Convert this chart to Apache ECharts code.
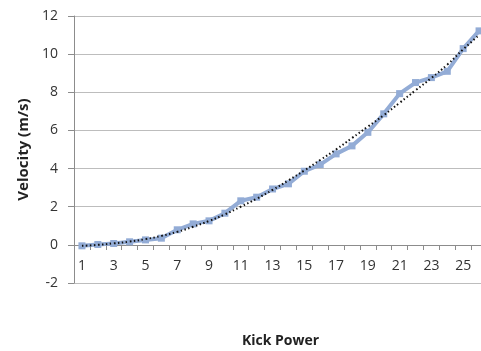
<!DOCTYPE html>
<html>
<head>
<meta charset="utf-8">
<script src="https://cdn.jsdelivr.net/npm/echarts@6/dist/echarts.min.js"></script>
<style>html,body{margin:0;padding:0;background:#fff;}#c{width:481px;height:351px;}</style>
</head>
<body>
<div id="c"></div>
<script>
var categories = ['1','2','3','4','5','6','7','8','9','10','11','12','13','14','15','16','17','18','19','20','21','22','23','24','25','26'];
var velocity = [-0.05,0.02,0.07,0.16,0.26,0.35,0.79,1.10,1.26,1.66,2.31,2.50,2.93,3.20,3.86,4.21,4.77,5.19,5.90,6.87,7.93,8.51,8.77,9.10,10.29,11.22];
var trend = [-0.05,0.0,0.08,0.17,0.30,0.47,0.68,0.95,1.25,1.60,2.00,2.42,2.88,3.38,3.90,4.45,5.00,5.60,6.20,6.80,7.45,8.10,8.75,9.45,10.25,11.00];
var yTicks = {min:-2, max:12, interval:2};

var chart = echarts.init(document.getElementById('c'), null, {renderer:'canvas'});
var font = 'Open Sans, Liberation Sans, Arial, sans-serif';
chart.setOption({
  animation:false,
  grid:{left:74, top:16, bottom:68, right:-6, containLabel:false, outerBoundsMode:'none'},
  xAxis:{
    type:'category', data:categories, boundaryGap:true,
    offset:-38,
    name:'Kick Power', nameLocation:'middle', nameGap:89,
    nameTextStyle:{fontFamily:font, fontWeight:'bold', fontSize:14, color:'#222'},
    axisLine:{onZero:false, lineStyle:{color:'#8c8c8c', width:1}},
    axisTick:{show:true, interval:0, length:5, lineStyle:{color:'#8c8c8c'}},
    axisLabel:{interval:1, margin:14, fontFamily:font, fontSize:14, color:'#333'},
    splitLine:{show:false}
  },
  yAxis:{
    type:'value', min:yTicks.min, max:yTicks.max, interval:yTicks.interval,
    name:'Velocity (m/s)', nameLocation:'middle', nameGap:40, nameRotate:90,
    nameTextStyle:{fontFamily:font, fontWeight:'bold', fontSize:15, color:'#222'},
    axisLine:{show:true, lineStyle:{color:'#8c8c8c', width:1}},
    axisTick:{show:true, length:6, lineStyle:{color:'#8c8c8c'}},
    axisLabel:{margin:16, fontFamily:font, fontSize:14, color:'#333'},
    splitLine:{show:true, lineStyle:{color:'#bdbdbd', width:1}}
  },
  series:[
    {type:'line', data:velocity, symbol:'rect', symbolSize:7, showSymbol:true,
     lineStyle:{color:'#93acd6', width:4}, itemStyle:{color:'#93acd6'}, z:2},
    {type:'line', data:trend, symbol:'none', smooth:true,
     lineStyle:{color:'#111', width:2, type:[1.5,2.5]}, z:3}
  ]
});
</script>
</body>
</html>
